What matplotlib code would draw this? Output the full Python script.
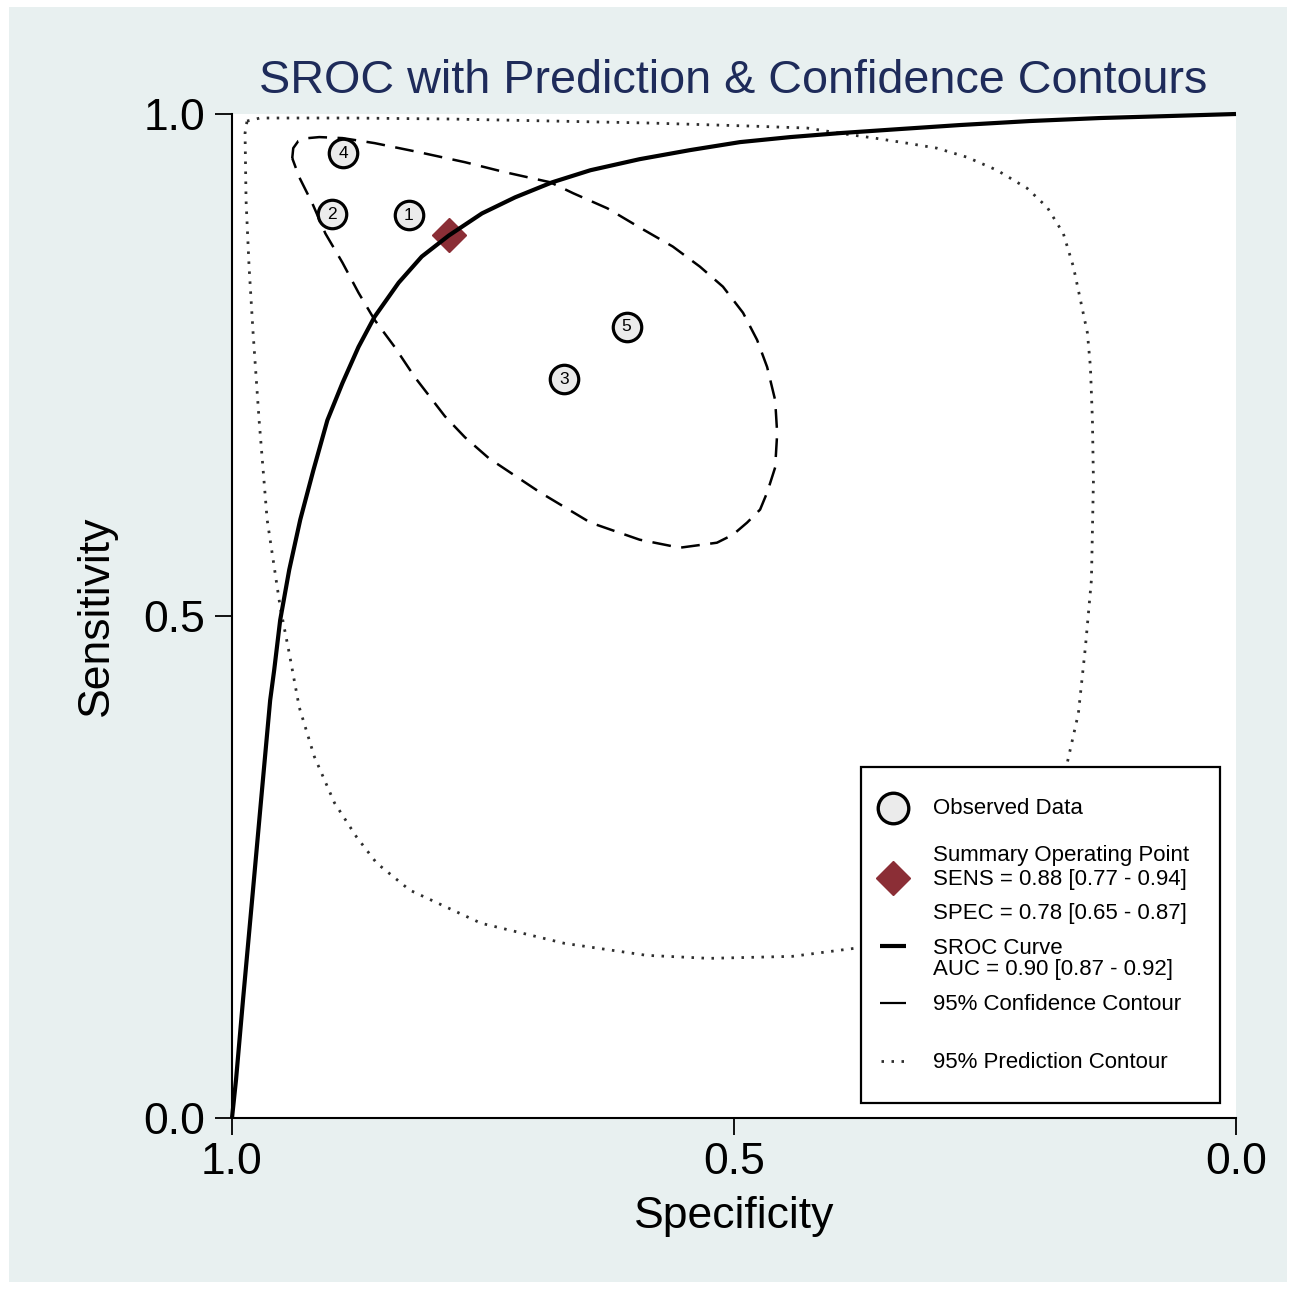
import matplotlib
matplotlib.use("Agg")
import matplotlib.pyplot as plt
from matplotlib.patches import Rectangle

plt.rcParams['font.family'] = ['Liberation Sans', 'DejaVu Sans']

# ---------------- data ----------------
study_ids = ['1', '2', '3', '4', '5']
study_spec = [0.824, 0.900, 0.669, 0.889, 0.607]
study_sens = [0.899, 0.900, 0.736, 0.961, 0.788]

summary_spec = 0.784
summary_sens = 0.879

sroc_spec = [1.000, 0.996, 0.989, 0.980, 0.971, 0.962, 0.958, 0.952, 0.943,
             0.932, 0.919, 0.905, 0.890, 0.874, 0.858, 0.834, 0.811, 0.784,
             0.751, 0.718, 0.681, 0.643, 0.594, 0.544, 0.494, 0.444, 0.394,
             0.335, 0.275, 0.205, 0.135, 0.066, 0.000]
sroc_sens = [0.000, 0.038, 0.118, 0.217, 0.317, 0.416, 0.446, 0.496, 0.546,
             0.596, 0.645, 0.695, 0.732, 0.768, 0.798, 0.832, 0.858, 0.879,
             0.901, 0.917, 0.932, 0.944, 0.955, 0.964, 0.972, 0.977, 0.981,
             0.985, 0.989, 0.993, 0.996, 0.998, 1.000]

conf_spec = [0.940, 0.939, 0.934, 0.924, 0.913, 0.890, 0.858, 0.814, 0.768,
             0.728, 0.683, 0.660, 0.626, 0.594, 0.561, 0.534, 0.511, 0.491,
             0.477, 0.467, 0.459, 0.457, 0.459, 0.467, 0.474, 0.487, 0.501,
             0.517, 0.554, 0.594, 0.643, 0.693, 0.744, 0.768, 0.788, 0.818,
             0.838, 0.858, 0.874, 0.890, 0.907, 0.920, 0.933, 0.940]
conf_sens = [0.956, 0.966, 0.973, 0.976, 0.977, 0.976, 0.971, 0.962, 0.952,
             0.942, 0.932, 0.921, 0.906, 0.887, 0.868, 0.848, 0.828, 0.802,
             0.775, 0.748, 0.715, 0.682, 0.648, 0.623, 0.606, 0.593, 0.581,
             0.573, 0.568, 0.576, 0.593, 0.623, 0.657, 0.678, 0.699, 0.738,
             0.768, 0.795, 0.822, 0.852, 0.881, 0.911, 0.937, 0.956]

pred_spec = [0.985, 0.972, 0.882, 0.783, 0.681, 0.584, 0.484, 0.427, 0.389,
             0.360, 0.328, 0.298, 0.268, 0.238, 0.208, 0.188, 0.172, 0.162,
             0.155, 0.148, 0.145, 0.143, 0.142, 0.144, 0.150, 0.157, 0.168,
             0.185, 0.215, 0.255, 0.305, 0.355, 0.380, 0.442, 0.525, 0.587,
             0.669, 0.752, 0.823, 0.856, 0.876, 0.898, 0.918, 0.933, 0.943,
             0.952, 0.965, 0.973, 0.979, 0.983, 0.986, 0.987, 0.985]
pred_sens = [0.993, 0.996, 0.996, 0.995, 0.993, 0.991, 0.988, 0.986, 0.980,
             0.976, 0.971, 0.966, 0.957, 0.944, 0.926, 0.907, 0.881, 0.848,
             0.815, 0.782, 0.748, 0.695, 0.635, 0.536, 0.469, 0.403, 0.354,
             0.297, 0.247, 0.212, 0.187, 0.173, 0.169, 0.161, 0.159, 0.162,
             0.174, 0.194, 0.227, 0.254, 0.280, 0.314, 0.360, 0.409, 0.463,
             0.509, 0.596, 0.695, 0.782, 0.848, 0.914, 0.981, 0.993]

tick_values = [0.0, 0.5, 1.0]
tick_labels = ['0.0', '0.5', '1.0']

title_text = 'SROC with Prediction & Confidence Contours'
x_label = 'Specificity'
y_label = 'Sensitivity'
legend_observed = 'Observed Data'
legend_summary = ['Summary Operating Point', 'SENS = 0.88 [0.77 - 0.94]',
                  'SPEC = 0.78 [0.65 - 0.87]']
legend_sroc = ['SROC Curve', 'AUC = 0.90 [0.87 - 0.92]']
legend_conf = '95% Confidence Contour'
legend_pred = '95% Prediction Contour'

# ---------------- styles ----------------
BG = '#E8F0F0'
TITLE_COLOR = '#1E2B5A'
DIAMOND_COLOR = '#8B2E36'
CIRCLE_FILL = '#EBEBEB'
DOT_COLOR = '#2E2E2E'
DOT_LW = 2.0
DOT_STYLE = (0, (0.9, 2.7))
DASH_LW = 1.8
DASH_STYLE = (0, (7.5, 4.2))

W, H = 1295, 1289
fig = plt.figure(figsize=(W / 100, H / 100), dpi=100, facecolor='white')
fig.add_artist(Rectangle((9 / W, 7 / H), (1287 - 9) / W, (1282 - 7) / H,
                         transform=fig.transFigure, facecolor=BG,
                         edgecolor='none', zorder=-10))

ax = fig.add_axes([232 / W, (H - 1118) / H, 1004 / W, 1004 / H])
ax.set_facecolor('white')
ax.set_xlim(1.0, 0.0)
ax.set_ylim(0.0, 1.0)

# prediction contour
ax.plot(pred_spec, pred_sens, color=DOT_COLOR, lw=DOT_LW, linestyle=DOT_STYLE,
        zorder=2)
# confidence contour
ax.plot(conf_spec, conf_sens, color='black', lw=DASH_LW, linestyle=DASH_STYLE,
        zorder=3)
# observed data
ax.plot(study_spec, study_sens, linestyle='none', marker='o', markersize=20.5,
        markerfacecolor=CIRCLE_FILL, markeredgecolor='black',
        markeredgewidth=2.3, zorder=4)
for sid, sx, sy in zip(study_ids, study_spec, study_sens):
    ax.text(sx, sy, sid, ha='center', va='center', fontsize=12.5, zorder=5)
# summary point
ax.plot([summary_spec], [summary_sens], linestyle='none', marker='D',
        markersize=17, markerfacecolor=DIAMOND_COLOR,
        markeredgecolor=DIAMOND_COLOR, zorder=5)
# SROC curve
ax.plot(sroc_spec, sroc_sens, color='black', lw=3.0, zorder=6,
        solid_capstyle='butt', solid_joinstyle='round', clip_on=False)

# axes styling
for side in ['top', 'right']:
    ax.spines[side].set_visible(False)
for side in ['left', 'bottom']:
    ax.spines[side].set_linewidth(1.5)
    ax.spines[side].set_color('black')
ax.set_xticks(tick_values)
ax.set_xticklabels(tick_labels)
ax.set_yticks(tick_values)
ax.set_yticklabels(tick_labels)
ax.tick_params(axis='both', direction='out', length=12, width=1.3,
               labelsize=32, colors='black')
ax.tick_params(axis='y', pad=7)
ax.tick_params(axis='x', pad=5)

ax.set_xlabel(x_label, fontsize=32)
ax.xaxis.label.set_va('baseline')
ax.xaxis.set_label_coords(0.5, -(1228 - 1118) / 1004)
ax.set_ylabel(y_label, fontsize=32)
ax.yaxis.label.set_va('baseline')
ax.yaxis.set_label_coords((108 - 232) / 1004, 0.5)

ax.text(0.4995, (1118 - 93) / 1004, title_text, transform=ax.transAxes,
        ha='center', va='baseline', fontsize=33.7, color=TITLE_COLOR)

# ---------------- legend box (manual layout) ----------------
def fx(px):
    return (px - 232) / 1004


def fy(py):
    return (1118 - py) / 1004


ax.add_patch(Rectangle((fx(861), fy(1103)), fx(1220) - fx(861),
                       fy(767) - fy(1103), transform=ax.transAxes,
                       facecolor='white', edgecolor='black', lw=1.6,
                       zorder=10, clip_on=False))
LFS = 16
tx = fx(933)
hx = fx(893)
ax.plot([hx], [fy(808)], transform=ax.transAxes, marker='o', markersize=22,
        markerfacecolor=CIRCLE_FILL, markeredgecolor='black',
        markeredgewidth=2.4, linestyle='none', zorder=11, clip_on=False)
ax.text(tx, fy(809), legend_observed, transform=ax.transAxes, fontsize=LFS,
        va='center', ha='left', zorder=11)

ax.plot([hx], [fy(878)], transform=ax.transAxes, marker='D', markersize=17,
        markerfacecolor=DIAMOND_COLOR, markeredgecolor=DIAMOND_COLOR,
        linestyle='none', zorder=11, clip_on=False)
for txt, py in zip(legend_summary, [856, 879, 913]):
    ax.text(tx, fy(py), txt, transform=ax.transAxes, fontsize=LFS,
            va='center', ha='left', zorder=11)

ax.plot([fx(880), fx(906)], [fy(946), fy(946)], transform=ax.transAxes,
        color='black', lw=3.0, solid_capstyle='butt', zorder=11,
        clip_on=False)
for txt, py in zip(legend_sroc, [948, 970]):
    ax.text(tx, fy(py), txt, transform=ax.transAxes, fontsize=LFS,
            va='center', ha='left', zorder=11)

ax.plot([fx(880), fx(906)], [fy(1003), fy(1003)], transform=ax.transAxes,
        color='black', lw=1.6, solid_capstyle='butt', zorder=11,
        clip_on=False)
ax.text(tx, fy(1004), legend_conf, transform=ax.transAxes, fontsize=LFS,
        va='center', ha='left', zorder=11)

ax.plot([fx(881), fx(907)], [fy(1061), fy(1061)], transform=ax.transAxes,
        color=DOT_COLOR, lw=DOT_LW, linestyle=DOT_STYLE, zorder=11,
        clip_on=False)
ax.text(tx, fy(1062), legend_pred, transform=ax.transAxes, fontsize=LFS,
        va='center', ha='left', zorder=11)

fig.savefig('out.png', dpi=100, facecolor='white')
